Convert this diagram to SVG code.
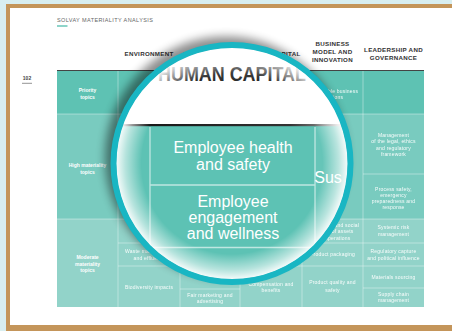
<svg xmlns="http://www.w3.org/2000/svg" width="452" height="331" viewBox="0 0 452 331">
  <style>
    .hdr{font-family:"Liberation Sans",Arial,sans-serif;font-weight:bold;font-size:6.2px;fill:#333;letter-spacing:0.3px;text-anchor:middle}
    .lbl{font-family:"Liberation Sans",Arial,sans-serif;font-weight:bold;font-size:5px;fill:#fff;text-anchor:middle}
    .cell{font-family:"Liberation Sans",Arial,sans-serif;font-size:5px;fill:#fff;letter-spacing:0.2px;text-anchor:middle;opacity:0.95}
    .grid{stroke:#fff;stroke-opacity:0.55;stroke-width:0.7;fill:none}
    .big{font-family:"Liberation Sans",Arial,sans-serif;font-size:16px;fill:#fff;text-anchor:middle}
    .lgrid{stroke:#fff;stroke-opacity:0.6;stroke-width:1.3;fill:none}
  </style>
  <defs>
    <clipPath id="lensClip"><circle cx="232" cy="163.5" r="116"/></clipPath>
    <radialGradient id="glow" gradientUnits="userSpaceOnUse" cx="232" cy="163.5" r="116">
      <stop offset="0.78" stop-color="#fff" stop-opacity="0"/>
      <stop offset="0.92" stop-color="#fff" stop-opacity="0.55"/>
      <stop offset="1" stop-color="#fff" stop-opacity="0.95"/>
    </radialGradient>
    <linearGradient id="darkLine" x1="0" y1="0" x2="1" y2="0">
      <stop offset="0" stop-color="#111"/>
      <stop offset="0.75" stop-color="#333"/>
      <stop offset="1" stop-color="#bbb"/>
    </linearGradient>
    <linearGradient id="hcText" x1="0" y1="0" x2="0" y2="1">
      <stop offset="0" stop-color="#555"/>
      <stop offset="1" stop-color="#222"/>
    </linearGradient>
    <filter id="shadow" x="-20%" y="-20%" width="140%" height="140%">
      <feGaussianBlur stdDeviation="5"/>
    </filter>
  </defs>

  <!-- frame -->
  <g id="frame">
    <rect x="0" y="0" width="452" height="331" fill="#d8eef0"/>
    <rect x="6" y="4" width="446" height="327" fill="#c4955a"/>
    <rect x="10" y="8" width="442" height="317" fill="#ffffff"/>
  </g>

  <!-- title & page number -->
  <g id="title">
    <text x="57" y="22" font-family="Liberation Sans, Arial, sans-serif" font-size="5.5" fill="#666" letter-spacing="0.4">SOLVAY MATERIALITY ANALYSIS</text>
    <rect x="57" y="25.3" width="10.5" height="1.4" fill="#5ec2b3"/>
  </g>
  <g id="page-number">
    <text x="27" y="80" font-family="Liberation Sans, Arial, sans-serif" font-weight="bold" font-size="5" fill="#444" text-anchor="middle">102</text>
    <line x1="22" y1="83.3" x2="32" y2="83.3" stroke="#777" stroke-width="0.8"/>
  </g>

  <!-- column headers -->
  <g id="headers">
    <text class="hdr" x="149" y="55.5">ENVIRONMENT</text>
    <text class="hdr" x="211" y="55.5">SOCIAL CAPITAL</text>
    <text class="hdr" x="273" y="55.5">HUMAN CAPITAL</text>
    <text class="hdr" x="332.5" y="46">BUSINESS</text>
    <text class="hdr" x="332.5" y="54">MODEL AND</text>
    <text class="hdr" x="332.5" y="62">INNOVATION</text>
    <text class="hdr" x="393.5" y="52">LEADERSHIP AND</text>
    <text class="hdr" x="393.5" y="60">GOVERNANCE</text>
    <line x1="57" y1="70.5" x2="424" y2="70.5" stroke="#444" stroke-width="1.2"/>
  </g>

  <!-- table body -->
  <g id="table">
    <rect x="57" y="71" width="367" height="43" fill="#5ec2b3"/>
    <rect x="57" y="114" width="367" height="105" fill="#79cbbf"/>
    <rect x="57" y="219" width="367" height="88" fill="#92d3c9"/>
    <path class="grid" d="M118 71V307M180 71V307M240 71V307M302 71V307M363 71V307
      M57 114H424M57 219H424
      M118 243H180M118 266H180
      M180 289H240
      M240 266H302
      M302 243H363M302 266H363
      M363 174H424M363 243H424M363 266H424M363 288H424"/>
  </g>

  <g id="row-labels">
    <text class="lbl" x="87.5" y="91.5">Priority</text>
    <text class="lbl" x="87.5" y="98.5">topics</text>
    <text class="lbl" x="87.5" y="166.5">High materiality</text>
    <text class="lbl" x="87.5" y="173.5">topics</text>
    <text class="lbl" x="87.5" y="259">Moderate</text>
    <text class="lbl" x="87.5" y="265.5">materiality</text>
    <text class="lbl" x="87.5" y="272">topics</text>
  </g>

  <g id="cells">
    <text class="cell" x="149" y="252.5">Waste management</text>
    <text class="cell" x="149" y="259.5">and effluents</text>
    <text class="cell" x="149" y="288.5">Biodiversity impacts</text>
    <text class="cell" x="210" y="296.5">Fair marketing and</text>
    <text class="cell" x="210" y="302.5">advertising</text>
    <text class="cell" x="271" y="285.5">Compensation and</text>
    <text class="cell" x="271" y="292">benefits</text>
    <text class="cell" x="332.5" y="92.5">Sustainable business</text>
    <text class="cell" x="332.5" y="99">solutions</text>
    <text class="cell" x="332.5" y="226.5">Community and social</text>
    <text class="cell" x="332.5" y="233">impacts of assets</text>
    <text class="cell" x="332.5" y="239.5">and operations</text>
    <text class="cell" x="332.5" y="256">Product packaging</text>
    <text class="cell" x="332.5" y="283.5">Product quality and</text>
    <text class="cell" x="332.5" y="291.5">safety</text>
    <text class="cell" x="393.5" y="136.5">Management</text>
    <text class="cell" x="393.5" y="143">of the legal, ethics</text>
    <text class="cell" x="393.5" y="149.5">and regulatory</text>
    <text class="cell" x="393.5" y="156">framework</text>
    <text class="cell" x="393.5" y="190.5">Process safety,</text>
    <text class="cell" x="393.5" y="196.5">emergency</text>
    <text class="cell" x="393.5" y="202.5">preparedness and</text>
    <text class="cell" x="393.5" y="209">response</text>
    <text class="cell" x="393.5" y="228.5">Systemic risk</text>
    <text class="cell" x="393.5" y="236">management</text>
    <text class="cell" x="393.5" y="253">Regulatory capture</text>
    <text class="cell" x="393.5" y="259.5">and political influence</text>
    <text class="cell" x="393.5" y="278.5">Materials sourcing</text>
    <text class="cell" x="393.5" y="295.5">Supply chain</text>
    <text class="cell" x="393.5" y="302">management</text>
  </g>

  <!-- magnifying lens -->
  <g id="lens">
    <circle cx="226" cy="157.5" r="121" fill="#000" opacity="0.45" filter="url(#shadow)"/>
    <g clip-path="url(#lensClip)">
      <rect x="110" y="40" width="250" height="250" fill="#ffffff"/>
      <rect x="110" y="126" width="250" height="170" fill="#5dc2b4"/>
      <rect x="315" y="126" width="45" height="170" fill="#66c5b8"/>
      <text x="232" y="81" font-family="Liberation Sans, Arial, sans-serif" font-weight="bold" font-size="21" fill="url(#hcText)" text-anchor="middle" textLength="148" lengthAdjust="spacingAndGlyphs">HUMAN CAPITAL</text>
      <rect x="110" y="124" width="240" height="2.2" fill="url(#darkLine)"/>
      <path class="lgrid" d="M150 127V248M315 127V250M150 185H315M150 247.5H315"/>
      <text class="big" x="233" y="153">Employee health</text>
      <text class="big" x="233" y="170">and safety</text>
      <text class="big" x="233" y="207">Employee</text>
      <text class="big" x="233" y="223">engagement</text>
      <text class="big" x="233" y="239">and wellness</text>
      <text class="big" x="328" y="183" text-anchor="start">Sus</text>
      <circle cx="232" cy="163.5" r="116" fill="url(#glow)"/>
    </g>
    <circle cx="232" cy="163.5" r="118.5" fill="none" stroke="#19b6c3" stroke-width="6"/>
  </g>
</svg>
